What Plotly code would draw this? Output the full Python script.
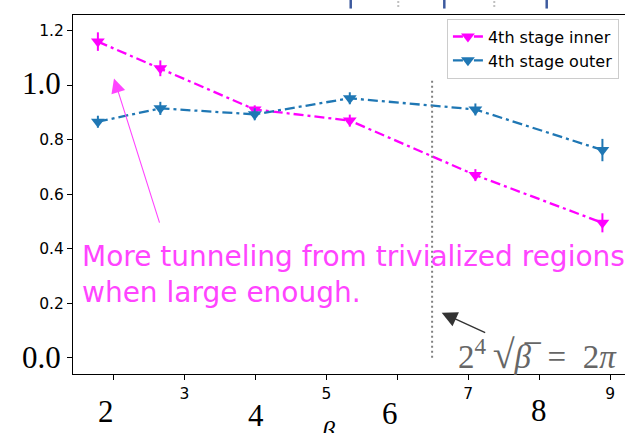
import plotly.graph_objects as go

# ---- data ----
beta = [1.78, 2.66, 3.99, 5.33, 7.10, 8.89]
inner = [1.160, 1.062, 0.911, 0.870, 0.670, 0.495]
inner_err = [0.034, 0.029, 0.015, 0.022, 0.022, 0.035]
outer = [0.866, 0.915, 0.893, 0.952, 0.911, 0.762]
outer_err = [0.022, 0.024, 0.022, 0.022, 0.022, 0.041]

x_tickvals = [2, 3, 4, 5, 6, 7, 8, 9]
x_small_text = ["", "3", "", "5", "", "7", "", "9"]
x_big_labels = ["2", "4", "6", "8"]
x_big_vals = [2, 4, 6, 8]

y_tickvals = [0.0, 0.2, 0.4, 0.6, 0.8, 1.0, 1.2]
y_small_text = ["", "0.2", "0.4", "0.6", "0.8", "", "1.2"]
y_big_labels = ["0.0", "1.0"]
y_big_vals = [0.0, 1.0]

threshold_beta = 6.49          # dotted vertical line
threshold_top = 1.02
upper_blue_x = [5.343, 6.662, 8.105]   # remnants of a panel above
upper_grey_x = [6.013, 7.366]

MAGENTA = "#ff00ff"
BLUE = "#1f77b4"
NOTE = "#ff44ff"

fig = go.Figure()

fig.add_trace(go.Scatter(
    x=beta, y=inner, name="4th stage inner", mode="lines+markers",
    line=dict(color=MAGENTA, width=2.3, dash="10px,4px,3px,4px"),
    marker=dict(symbol="triangle-down", size=12, color=MAGENTA),
    error_y=dict(type="data", array=inner_err, color=MAGENTA, thickness=2, width=0),
))
fig.add_trace(go.Scatter(
    x=beta, y=outer, name="4th stage outer", mode="lines+markers",
    line=dict(color=BLUE, width=2.3, dash="10px,4px,3px,4px"),
    marker=dict(symbol="triangle-down", size=12, color=BLUE),
    error_y=dict(type="data", array=outer_err, color=BLUE, thickness=2, width=0),
))

# dotted vertical threshold line
fig.add_shape(type="line", xref="x", yref="y", x0=threshold_beta, x1=threshold_beta,
              y0=0, y1=threshold_top, line=dict(color="#808080", width=2, dash="2px,3px"))

# remnants above the frame
for xv in upper_blue_x:
    fig.add_shape(type="line", xref="x", yref="paper", x0=xv, x1=xv, y0=1.018, y1=1.045,
                  line=dict(color="#3d5a9e", width=2.5))
for xv in upper_grey_x:
    fig.add_shape(type="line", xref="x", yref="paper", x0=xv, x1=xv, y0=1.022, y1=1.045,
                  line=dict(color="#c0c0c0", width=2, dash="2px,2px"))

ann = []
# big serif x labels
x_shifts = [-8, 1, -7, 0]
y_shifts = [-37, -41, -39, -36]
for lab, xv, xs, ys in zip(x_big_labels, x_big_vals, x_shifts, y_shifts):
    ann.append(dict(x=xv, y=0, xref="x", yref="paper", text=lab, showarrow=False,
                    xanchor="center", yanchor="middle", xshift=xs, yshift=ys,
                    font=dict(family="Liberation Serif", size=31, color="black")))
# big serif y labels
for lab, yv, ys in zip(y_big_labels, y_big_vals, [0, 2]):
    ann.append(dict(x=0, y=yv, xref="paper", yref="y", text=lab, showarrow=False,
                    xanchor="right", yanchor="middle", xshift=-10, yshift=ys,
                    font=dict(family="Liberation Serif", size=31, color="black")))
# axis title beta (cut off)
ann.append(dict(x=5.02, y=0, xref="x", yref="paper", text="<i>β</i>", showarrow=False,
                xanchor="center", yanchor="top", yshift=-40,
                font=dict(family="Liberation Serif", size=26, color="black")))
# note text
ann.append(dict(x=0, y=0.305, xref="paper", yref="y", xshift=7,
                text="More tunneling from trivialized regions<br>when large enough.",
                showarrow=False, xanchor="left", yanchor="middle", align="left",
                font=dict(family="DejaVu Sans", size=28, color=NOTE)))
# magenta arrow
ann.append(dict(x=2.007, y=1.025, xref="x", yref="y", ax=2.655, ay=0.49, axref="x", ayref="y",
                text="", showarrow=True, arrowhead=2, arrowsize=2.6, arrowwidth=1.1,
                arrowcolor=NOTE))
# grey arrow
ann.append(dict(x=6.625, y=0.165, xref="x", yref="y", ax=7.259, ay=0.0895, axref="x", ayref="y",
                text="", showarrow=True, arrowhead=2, arrowsize=2.2, arrowwidth=1.4,
                arrowcolor="#333333"))
# math label
ann.append(dict(x=7.97, y=0.012, xref="x", yref="y",
                text="2<sup>4</sup>\u2009<span style='font-size:40px'>√</span><i>β̅</i>\u2002=\u20022<i>π</i>",
                showarrow=False, xanchor="center", yanchor="middle",
                font=dict(family="Liberation Serif", size=33, color="#666666")))

fig.update_layout(
    width=625, height=433,
    margin=dict(l=73, r=0, t=15, b=59),
    paper_bgcolor="white", plot_bgcolor="white",
    showlegend=True,
    legend=dict(x=0.989, y=0.99, xanchor="right", yanchor="top",
                bgcolor="rgba(255,255,255,0.85)", bordercolor="#cccccc", borderwidth=1,
                font=dict(family="DejaVu Sans", size=16, color="black")),
    annotations=ann,
    font=dict(family="DejaVu Sans", size=15.5, color="black"),
)
fig.update_xaxes(range=[1.4293, 9.2083], tickvals=x_tickvals, ticktext=x_small_text,
                 showgrid=False, zeroline=False, showline=True, linecolor="black", linewidth=1.2,
                 mirror=True, ticks="outside", ticklen=5, tickwidth=1.2, tickcolor="black",
                 tickfont=dict(family="DejaVu Sans", size=15.5))
fig.update_yaxes(range=[-0.0598, 1.2576], tickvals=y_tickvals, ticktext=y_small_text,
                 showgrid=False, zeroline=False, showline=True, linecolor="black", linewidth=1.2,
                 mirror=False, ticks="outside", ticklen=5, tickwidth=1.2, tickcolor="black",
                 tickfont=dict(family="DejaVu Sans", size=15.5))

fig.write_html("out.html")
